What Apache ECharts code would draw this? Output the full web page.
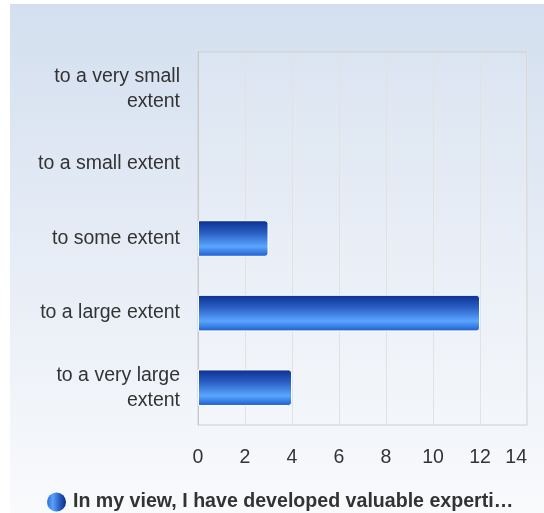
<!DOCTYPE html>
<html>
<head>
<meta charset="utf-8">
<script src="https://cdn.jsdelivr.net/npm/echarts@6/dist/echarts.min.js"></script>
<style>
html,body{margin:0;padding:0;background:#fff;}
#c{width:544px;height:513px;}
</style>
</head>
<body>
<div id="c"></div>
<script>
var categories = ["to a very small\nextent", "to a small extent", "to some extent", "to a large extent", "to a very large\nextent"];
var seriesName = "In my view, I have developed valuable experti\u2026";
var values = [0, 0, 3, 12, 4];
var xTicks = { min: 0, max: 14, interval: 2 };

var chart = echarts.init(document.getElementById('c'), null, { renderer: 'canvas' });
var barGrad = new echarts.graphic.LinearGradient(0, 0, 0, 1, [
  { offset: 0, color: '#0b2f8f' },
  { offset: 0.35, color: '#2a5fc4' },
  { offset: 0.72, color: '#5aa6ff' },
  { offset: 1, color: '#1b5acb' }
]);
var iconGrad = new echarts.graphic.LinearGradient(0, 0, 1, 0, [
  { offset: 0, color: '#2c6ed8' },
  { offset: 0.3, color: '#5aa2fb' },
  { offset: 0.65, color: '#2a5fc4' },
  { offset: 1, color: '#0b2a86' }
]);
var barData = values.map(function (v) {
  return v === 0 ? { value: v, itemStyle: { borderWidth: 0 } } : v;
});
var FONT = 'Liberation Sans, Arial, sans-serif';
chart.setOption({
  animation: false,
  graphic: [{
    type: 'rect', left: 10, top: 4, z: -10,
    shape: { width: 534, height: 509 },
    style: {
      fill: new echarts.graphic.LinearGradient(0, 0, 0, 1, [
        { offset: 0, color: '#d3dfef' },
        { offset: 0.5, color: '#e7edf6' },
        { offset: 1, color: '#f9fafc' }
      ])
    }
  }],
  grid: { left: 198, right: 17, top: 52, bottom: 88, show: true, borderColor: '#cfcfcf', borderWidth: 1, backgroundColor: 'rgba(255,255,255,0.12)' },
  legend: {
    left: 42, top: 487,
    itemWidth: 19, itemHeight: 19, itemGap: 10,
    icon: 'circle',
    itemStyle: { color: iconGrad, borderWidth: 0 },
    textStyle: { fontFamily: FONT, fontSize: 19.6, fontWeight: 'bold', color: '#333', padding: [0, 0, 0, 2] },
    data: [seriesName]
  },
  xAxis: {
    type: 'value', min: xTicks.min, max: xTicks.max, interval: xTicks.interval,
    axisLine: { show: false }, axisTick: { show: false },
    splitLine: { lineStyle: { color: '#e2e2e2', width: 1 } },
    axisLabel: { margin: 23, alignMaxLabel: 'right', fontFamily: FONT, fontSize: 19.5, color: '#333' }
  },
  yAxis: {
    type: 'category', inverse: true, data: categories,
    axisLine: { show: true, lineStyle: { color: '#c8c8c8' } }, axisTick: { show: false },
    axisLabel: { margin: 18, fontFamily: FONT, fontSize: 19.5, lineHeight: 25, color: '#333', align: 'right', padding: [7, 0, 0, 0] }
  },
  series: [{
    name: seriesName, type: 'bar', data: barData,
    barWidth: '49%',
    itemStyle: { color: barGrad, borderColor: '#ffffff', borderWidth: 1, borderRadius: [0, 3, 3, 0] }
  }]
});
</script>
</body>
</html>
